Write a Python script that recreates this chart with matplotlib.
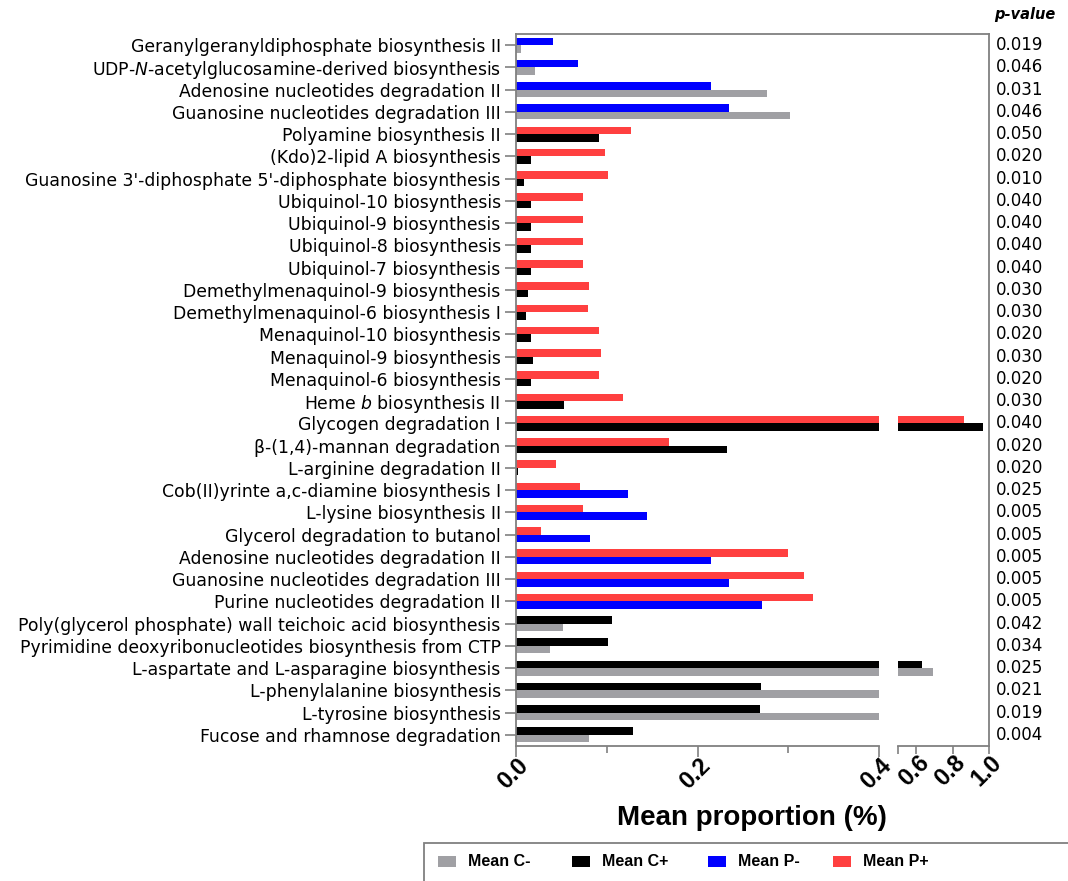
import numpy as np
import matplotlib
matplotlib.use("Agg")
import matplotlib.pyplot as plt
from matplotlib import font_manager
from matplotlib.patches import Rectangle
from matplotlib.transforms import blended_transform_factory, ScaledTranslation

nan = np.nan

pathways = [
    "Geranylgeranyldiphosphate biosynthesis II",
    "UDP-$\\it{N}$-acetylglucosamine-derived biosynthesis",
    "Adenosine nucleotides degradation II",
    "Guanosine nucleotides degradation III",
    "Polyamine biosynthesis II",
    "(Kdo)2-lipid A biosynthesis",
    "Guanosine 3'-diphosphate 5'-diphosphate biosynthesis",
    "Ubiquinol-10 biosynthesis",
    "Ubiquinol-9 biosynthesis",
    "Ubiquinol-8 biosynthesis",
    "Ubiquinol-7 biosynthesis",
    "Demethylmenaquinol-9 biosynthesis",
    "Demethylmenaquinol-6 biosynthesis I",
    "Menaquinol-10 biosynthesis",
    "Menaquinol-9 biosynthesis",
    "Menaquinol-6 biosynthesis",
    "Heme $\\it{b}$ biosynthesis II",
    "Glycogen degradation I",
    "\u03b2-(1,4)-mannan degradation",
    "L-arginine degradation II",
    "Cob(II)yrinte a,c-diamine biosynthesis I",
    "L-lysine biosynthesis II",
    "Glycerol degradation to butanol",
    "Adenosine nucleotides degradation II",
    "Guanosine nucleotides degradation III",
    "Purine nucleotides degradation II",
    "Poly(glycerol phosphate) wall teichoic acid biosynthesis",
    "Pyrimidine deoxyribonucleotides biosynthesis from CTP",
    "L-aspartate and L-asparagine biosynthesis",
    "L-phenylalanine biosynthesis",
    "L-tyrosine biosynthesis",
    "Fucose and rhamnose degradation",
]

p_values = ["0.019", "0.046", "0.031", "0.046", "0.050", "0.020", "0.010", "0.040",
            "0.040", "0.040", "0.040", "0.030", "0.030", "0.020", "0.030", "0.020",
            "0.030", "0.040", "0.020", "0.020", "0.025", "0.005", "0.005", "0.005",
            "0.005", "0.005", "0.042", "0.034", "0.025", "0.021", "0.019", "0.004"]

mean_c_minus = [0.005, 0.021, 0.277, 0.302, nan, nan, nan, nan,
                nan, nan, nan, nan, nan, nan, nan, nan,
                nan, nan, nan, nan, nan, nan, nan, nan,
                nan, nan, 0.052, 0.038, 0.690, 0.45, 0.45, 0.080]
mean_c_plus = [nan, nan, nan, nan, 0.091, 0.017, 0.009, 0.0165,
               0.0165, 0.0165, 0.0165, 0.013, 0.011, 0.016, 0.019, 0.016,
               0.053, 0.967, 0.233, 0.002, nan, nan, nan, nan,
               nan, nan, 0.106, 0.101, 0.630, 0.270, 0.269, 0.129]
mean_p_minus = [0.041, 0.068, 0.215, 0.235, nan, nan, nan, nan,
                nan, nan, nan, nan, nan, nan, nan, nan,
                nan, nan, nan, nan, 0.1235, 0.144, 0.082, 0.215,
                0.235, 0.271, nan, nan, nan, nan, nan, nan]
mean_p_plus = [nan, nan, nan, nan, 0.127, 0.098, 0.101, 0.074,
               0.074, 0.074, 0.074, 0.080, 0.079, 0.092, 0.094, 0.092,
               0.118, 0.862, 0.169, 0.044, 0.071, 0.074, 0.028, 0.300,
               0.317, 0.327, nan, nan, nan, nan, nan, nan]

# order decides which bar goes on top in each row
series = [
    ("Mean P+", mean_p_plus, "#FF4040"),
    ("Mean P-", mean_p_minus, "#0000FF"),
    ("Mean C+", mean_c_plus, "#000000"),
    ("Mean C-", mean_c_minus, "#A0A0A4"),
]
legend_order = ["Mean C-", "Mean C+", "Mean P-", "Mean P+"]

W, H = 1068, 881
fig = plt.figure(figsize=(W / 100, H / 100), dpi=100)

# narrow bold font for the legend if there is one
try:
    font_manager.findfont("Liberation Sans Narrow", fallback_to_default=False)
    legend_family = "Liberation Sans Narrow"
    legend_size = 12.5
except Exception:
    legend_family = "Liberation Sans"
    legend_size = 11.5


def fx(px):
    return px / W


def fy(py):
    return 1 - py / H


top_px, bot_px = 34, 746
x0_px, x1_px = 516, 879
x2_px, x3_px = 898.3, 989
ax_h = fy(top_px) - fy(bot_px)

frame = fig.add_axes([fx(x0_px), fy(bot_px), fx(x3_px - x0_px), ax_h])
frame.set_xticks([])
frame.set_yticks([])
frame.patch.set_visible(False)
for side in ["left", "bottom"]:
    frame.spines[side].set_visible(False)
for side in ["top", "right"]:
    frame.spines[side].set_color("#808080")
    frame.spines[side].set_linewidth(1.3)

ax = fig.add_axes([fx(x0_px), fy(bot_px), fx(x1_px - x0_px), ax_h])
ax2 = fig.add_axes([fx(x2_px), fy(bot_px), fx(x3_px - x2_px), ax_h], sharey=ax)

n = len(pathways)
rows = np.arange(n)
bar_h = 0.34
for label, vals, color in series:
    vals = np.asarray(vals, dtype=float)
    ys = []
    for i in rows:
        present = [s for s in series if not np.isnan(s[1][i])]
        is_top = present[0][0] == label
        ys.append(i - bar_h / 2 if is_top else i + bar_h / 2)
    ys = np.asarray(ys)
    m = ~np.isnan(vals)
    for a in (ax, ax2):
        a.barh(ys[m], vals[m], height=bar_h, color=color, linewidth=0)

ax.set_ylim(n - 0.5, -0.5)
ax.set_xlim(0, 0.4)
ax2.set_xlim(0.5, 1.0)

ax.set_yticks(rows)
ax.set_yticklabels(pathways, fontsize=12.4)
ax.tick_params(axis="y", length=8, width=1.2, color="#808080", pad=3)
ax.set_xticks([0.0, 0.2, 0.4])
ax.set_xticks([0.1, 0.3], minor=True)
ax.set_xticklabels(["0.0", "0.2", "0.4"])
ax.tick_params(axis="x", which="major", length=8, width=1.2, color="#808080")
ax.tick_params(axis="x", which="minor", length=5, width=1.2, color="#808080")

ax2.set_xticks([0.5, 0.6, 0.8, 1.0])
ax2.set_xticklabels(["", "0.6", "0.8", "1.0"])
ax2.tick_params(axis="x", length=6, width=1.2, color="#808080")
ax2.tick_params(axis="y", left=False, labelleft=False)

shift = ScaledTranslation(9 / 100, 0, fig.dpi_scale_trans)
for a in (ax, ax2):
    for side in ["top", "right"]:
        a.spines[side].set_visible(False)
    a.spines["bottom"].set_color("#808080")
    a.spines["bottom"].set_linewidth(1.3)
    a.patch.set_visible(False)
    for t in a.get_xticklabels():
        t.set_rotation(45)
        t.set_ha("right")
        t.set_va("center")
        t.set_rotation_mode("anchor")
        t.set_fontsize(17)
        t.set_fontweight("bold")
        t.set_family("Liberation Sans")
        t.set_transform(t.get_transform() + shift)
ax.spines["left"].set_color("#808080")
ax.spines["left"].set_linewidth(1.3)
ax2.spines["left"].set_visible(False)

fig.text(fx(752), fy(818), "Mean proportion (%)", ha="center", va="center",
         fontsize=20, fontweight="bold", family="Liberation Sans")

tr = blended_transform_factory(fig.transFigure, ax.transData)
for i, p in enumerate(p_values):
    ax.text(fx(996), i, p, transform=tr, ha="left", va="center", fontsize=12)
fig.text(fx(1055), fy(14), "p-value", ha="right", va="center", fontsize=10.5,
         fontweight="bold", style="italic")

# legend box runs off the figure edge
fig.patches.append(Rectangle((fx(424), fy(H + 20)), fx(700), fy(843) - fy(H + 20),
                             transform=fig.transFigure, fill=False,
                             edgecolor="#808080", linewidth=1.3))
colors = {s[0]: s[2] for s in series}
key_x = [438, 572, 708, 833]
for k, kx in zip(legend_order, key_x):
    fig.patches.append(Rectangle((fx(kx), fy(867)), fx(18), fy(856) - fy(867),
                                 transform=fig.transFigure, facecolor=colors[k],
                                 edgecolor="none"))
    fig.text(fx(kx + 30), fy(862), k, ha="left", va="center", fontsize=legend_size,
             fontweight="bold", family=legend_family)

fig.savefig("out.png", dpi=100)
